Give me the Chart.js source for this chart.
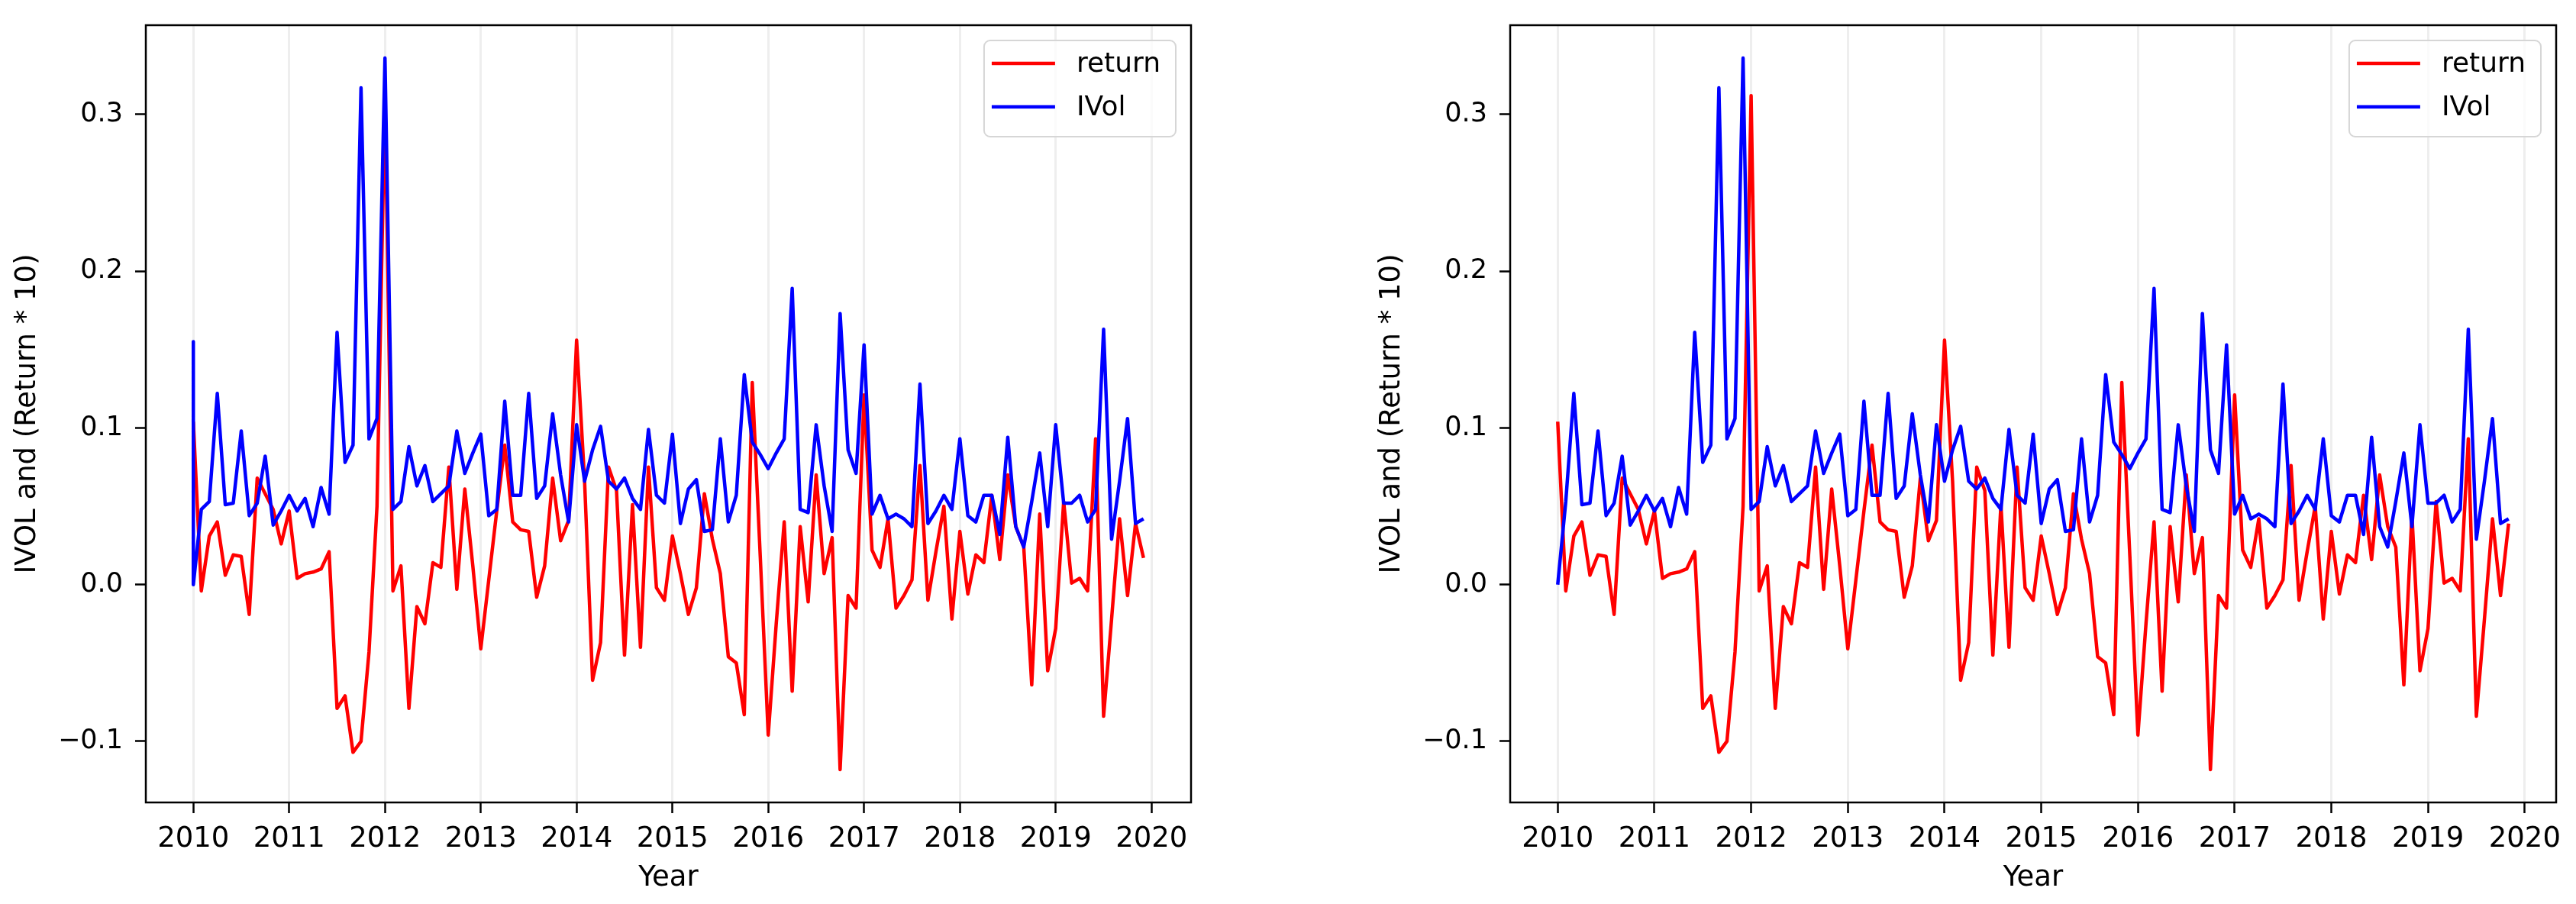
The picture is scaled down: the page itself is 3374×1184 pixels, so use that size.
<!DOCTYPE html>
<html>
<head>
<meta charset="utf-8">
<script src="https://cdn.jsdelivr.net/npm/chart.js@4.4.1/dist/chart.umd.min.js"></script>
<style>
  html, body { margin: 0; padding: 0; background: #ffffff; width: 3374px; height: 1184px; overflow: hidden; }
  canvas { position: absolute; top: 0; }
  #leftChart { left: 0px; }
  #rightChart { left: 1787px; }
</style>
</head>
<body>
<canvas id="leftChart" width="1700" height="1184"></canvas>
<canvas id="rightChart" width="1587" height="1184"></canvas>
<script>
// ---------------- DATA ----------------
// monthly observation dates (categories)
const months = [];
for (let y = 2010; y <= 2019; y++) {
  for (let m = 1; m <= 12; m++) months.push(y + '-' + String(m).padStart(2, '0'));
}
const xTickYears = [2010, 2011, 2012, 2013, 2014, 2015, 2016, 2017, 2018, 2019, 2020];
const yTickValues = [-0.1, 0.0, 0.1, 0.2, 0.3];
const seriesNames = ['return', 'IVol'];

// Left panel: return (x10), Jan 2010 .. Dec 2019
const returnLeft = [
  0.104, -0.004, 0.031, 0.040, 0.006, 0.019, 0.018, -0.019, 0.068, 0.058, 0.048, 0.026,
  0.047, 0.004, 0.007, 0.008, 0.010, 0.021, -0.079, -0.071, -0.107, -0.100, -0.043, 0.050,
  0.312, -0.004, 0.012, -0.079, -0.014, -0.025, 0.014, 0.011, 0.075, -0.003, 0.061, 0.012,
  -0.041, 0.003, 0.047, 0.089, 0.040, 0.035, 0.034, -0.008, 0.012, 0.068, 0.028, 0.041,
  0.156, 0.066, -0.061, -0.037, 0.075, 0.060, -0.045, 0.051, -0.040, 0.075, -0.002, -0.010,
  0.031, 0.007, -0.019, -0.002, 0.058, 0.029, 0.007, -0.046, -0.050, -0.083, 0.129, 0.018,
  -0.096, -0.025, 0.040, -0.068, 0.037, -0.011, 0.070, 0.007, 0.030, -0.118, -0.007, -0.015,
  0.121, 0.022, 0.011, 0.042, -0.015, -0.007, 0.003, 0.076, -0.010, 0.021, 0.050, -0.022,
  0.034, -0.006, 0.019, 0.014, 0.057, 0.016, 0.070, 0.037, 0.024, -0.064, 0.045, -0.055,
  -0.028, 0.053, 0.001, 0.004, -0.004, 0.093, -0.084, -0.022, 0.042, -0.007, 0.039, 0.017
];
// Left panel: IVol; the line opens with a vertical drop at Jan 2010 from this value
const ivolLeftOpening = 0.155;
const ivolLeft = [
  0.000, 0.048, 0.053, 0.122, 0.051, 0.052, 0.098, 0.044, 0.052, 0.082, 0.038, 0.047,
  0.057, 0.047, 0.055, 0.037, 0.062, 0.045, 0.161, 0.078, 0.089, 0.317, 0.093, 0.106,
  0.336, 0.048, 0.053, 0.088, 0.063, 0.076, 0.053, 0.058, 0.063, 0.098, 0.071, 0.084,
  0.096, 0.044, 0.048, 0.117, 0.057, 0.057, 0.122, 0.055, 0.063, 0.109, 0.070, 0.040,
  0.102, 0.066, 0.086, 0.101, 0.066, 0.061, 0.068, 0.055, 0.048, 0.099, 0.057, 0.052,
  0.096, 0.039, 0.061, 0.067, 0.034, 0.035, 0.093, 0.040, 0.057, 0.134, 0.091, 0.083,
  0.074, 0.084, 0.093, 0.189, 0.048, 0.046, 0.102, 0.063, 0.034, 0.173, 0.086, 0.071,
  0.153, 0.045, 0.057, 0.042, 0.045, 0.042, 0.037, 0.128, 0.039, 0.047, 0.057, 0.048,
  0.093, 0.044, 0.040, 0.057, 0.057, 0.032, 0.094, 0.037, 0.024, 0.053, 0.084, 0.037,
  0.102, 0.052, 0.052, 0.057, 0.040, 0.048, 0.163, 0.029, 0.066, 0.106, 0.039, 0.042
];

// Right panel: return (x10), Jan 2010 .. Nov 2019
const returnRight = [
  0.104, -0.004, 0.031, 0.040, 0.006, 0.019, 0.018, -0.019, 0.068, 0.058, 0.048, 0.026,
  0.047, 0.004, 0.007, 0.008, 0.010, 0.021, -0.079, -0.071, -0.107, -0.100, -0.043, 0.050,
  0.312, -0.004, 0.012, -0.079, -0.014, -0.025, 0.014, 0.011, 0.075, -0.003, 0.061, 0.012,
  -0.041, 0.003, 0.047, 0.089, 0.040, 0.035, 0.034, -0.008, 0.012, 0.068, 0.028, 0.041,
  0.156, 0.066, -0.061, -0.037, 0.075, 0.060, -0.045, 0.051, -0.040, 0.075, -0.002, -0.010,
  0.031, 0.007, -0.019, -0.002, 0.058, 0.029, 0.007, -0.046, -0.050, -0.083, 0.129, 0.018,
  -0.096, -0.025, 0.040, -0.068, 0.037, -0.011, 0.070, 0.007, 0.030, -0.118, -0.007, -0.015,
  0.121, 0.022, 0.011, 0.042, -0.015, -0.007, 0.003, 0.076, -0.010, 0.021, 0.050, -0.022,
  0.034, -0.006, 0.019, 0.014, 0.057, 0.016, 0.070, 0.037, 0.024, -0.064, 0.045, -0.055,
  -0.028, 0.053, 0.001, 0.004, -0.004, 0.093, -0.084, -0.022, 0.042, -0.007, 0.039
];
// Right panel: IVol, Jan 2010 .. Nov 2019
const ivolRight = [
  0.000, 0.053, 0.122, 0.051, 0.052, 0.098, 0.044, 0.052, 0.082, 0.038, 0.047, 0.057,
  0.047, 0.055, 0.037, 0.062, 0.045, 0.161, 0.078, 0.089, 0.317, 0.093, 0.106, 0.336,
  0.048, 0.053, 0.088, 0.063, 0.076, 0.053, 0.058, 0.063, 0.098, 0.071, 0.084, 0.096,
  0.044, 0.048, 0.117, 0.057, 0.057, 0.122, 0.055, 0.063, 0.109, 0.070, 0.040, 0.102,
  0.066, 0.086, 0.101, 0.066, 0.061, 0.068, 0.055, 0.048, 0.099, 0.057, 0.052, 0.096,
  0.039, 0.061, 0.067, 0.034, 0.035, 0.093, 0.040, 0.057, 0.134, 0.091, 0.083, 0.074,
  0.084, 0.093, 0.189, 0.048, 0.046, 0.102, 0.063, 0.034, 0.173, 0.086, 0.071, 0.153,
  0.045, 0.057, 0.042, 0.045, 0.042, 0.037, 0.128, 0.039, 0.047, 0.057, 0.048, 0.093,
  0.044, 0.040, 0.057, 0.057, 0.032, 0.094, 0.037, 0.024, 0.053, 0.084, 0.037, 0.102,
  0.052, 0.052, 0.057, 0.040, 0.048, 0.163, 0.029, 0.066, 0.106, 0.039, 0.042
];

// ---------------- HELPERS ----------------
const FONT = '"DejaVu Sans", "Liberation Sans", sans-serif';
Chart.defaults.font.family = FONT;
Chart.defaults.color = '#000000';

function monthToYear(label) {
  const [y, m] = label.split('-').map(Number);
  return y + (m - 1) / 12;
}
function toPoints(values, opening) {
  const pts = values.map((v, i) => ({ x: monthToYear(months[i]), y: v }));
  if (opening !== undefined) pts.unshift({ x: monthToYear(months[0]), y: opening });
  return pts;
}

// matplotlib-like frame (all four spines)
const framePlugin = {
  id: 'frame',
  afterDatasetsDraw(chart) {
    const { ctx, chartArea: a } = chart;
    ctx.save();
    ctx.strokeStyle = '#000000';
    ctx.lineWidth = 2.5;
    ctx.strokeRect(a.left, a.top, a.right - a.left, a.bottom - a.top);
    ctx.restore();
  }
};

// matplotlib-like legend box in the upper right of the axes
const legendPlugin = {
  id: 'boxLegend',
  afterDraw(chart) {
    const { ctx, chartArea: a } = chart;
    const sets = chart.data.datasets;
    ctx.save();
    ctx.font = '36px ' + FONT;
    const textW = Math.max(...sets.map(d => ctx.measureText(d.label).width));
    const padL = 10, lineLen = 83, gap = 28, padR = 20, rowH = 57, boxH = 126;
    const w = padL + lineLen + gap + textW + padR;
    const x0 = a.right - 20 - w;
    const y0 = a.top + 20;
    ctx.beginPath();
    if (ctx.roundRect) ctx.roundRect(x0, y0, w, boxH, 8); else ctx.rect(x0, y0, w, boxH);
    ctx.fillStyle = 'rgba(255,255,255,0.8)';
    ctx.fill();
    ctx.strokeStyle = '#d6d6d6';
    ctx.lineWidth = 2;
    ctx.stroke();
    sets.forEach((d, i) => {
      const cy = y0 + 30 + i * rowH;
      ctx.strokeStyle = d.borderColor;
      ctx.lineWidth = 4.5;
      ctx.beginPath();
      ctx.moveTo(x0 + padL, cy);
      ctx.lineTo(x0 + padL + lineLen, cy);
      ctx.stroke();
      ctx.fillStyle = '#000000';
      ctx.textBaseline = 'middle';
      ctx.textAlign = 'left';
      ctx.fillText(d.label, x0 + padL + lineLen + gap, cy + 2);
    });
    ctx.restore();
  }
};

function makeChart(canvasId, retVals, ivolVals, ivolOpening, padRight) {
  const first = monthToYear(months[0]);
  const last = monthToYear(months[retVals.length - 1]);
  const margin = (last - first) * 0.05;
  return new Chart(document.getElementById(canvasId), {
    type: 'line',
    data: {
      datasets: [
        {
          label: seriesNames[0],
          data: toPoints(retVals),
          borderColor: '#ff0000',
          borderWidth: 4.5,
          pointRadius: 0,
          tension: 0,
          fill: false,
          borderJoinStyle: 'round',
          order: 2
        },
        {
          label: seriesNames[1],
          data: toPoints(ivolVals, ivolOpening),
          borderColor: '#0000ff',
          borderWidth: 4.5,
          pointRadius: 0,
          tension: 0,
          fill: false,
          borderJoinStyle: 'round',
          order: 1
        }
      ]
    },
    options: {
      responsive: false,
      animation: false,
      devicePixelRatio: 1,
      layout: { autoPadding: false, padding: { left: 0, top: 33, right: padRight, bottom: 0 } },
      plugins: { legend: { display: false }, tooltip: { enabled: false } },
      scales: {
        x: {
          type: 'linear',
          min: first - margin,
          max: last + margin,
          afterBuildTicks: (s) => { s.ticks = xTickYears.map(v => ({ value: v })); },
          afterFit: (s) => { s.height = 133; s.paddingLeft = 0; s.paddingRight = 0; },
          ticks: {
            autoSkip: false,
            maxRotation: 0,
            padding: 12,
            font: { size: 37 },
            color: '#000000',
            callback: (v) => String(v)
          },
          grid: {
            display: true,
            color: 'rgba(176,176,176,0.22)',
            lineWidth: 3,
            drawTicks: true,
            tickLength: 14,
            tickColor: '#000000',
            tickWidth: 2.5
          },
          border: { display: false },
          title: {
            display: true,
            text: 'Year',
            font: { size: 37 },
            color: '#000000',
            padding: { top: 0, bottom: 11 }
          }
        },
        y: {
          type: 'linear',
          min: -0.139,
          max: 0.357,
          afterBuildTicks: (s) => { s.ticks = yTickValues.map(v => ({ value: v })); },
          afterFit: (s) => { s.width = 191; s.paddingTop = 0; s.paddingBottom = 0; },
          ticks: {
            padding: 16,
            font: { size: 35 },
            color: '#000000',
            callback: (v) => (v < 0 ? '\u2212' + Math.abs(v).toFixed(1) : v.toFixed(1))
          },
          grid: {
            display: true,
            drawOnChartArea: false,
            drawTicks: true,
            tickLength: 14,
            tickColor: '#000000',
            tickWidth: 2.5
          },
          border: { display: false },
          title: {
            display: true,
            text: 'IVOL and (Return * 10)',
            font: { size: 37 },
            color: '#000000',
            padding: { top: 14, bottom: 0 }
          }
        }
      }
    },
    plugins: [framePlugin, legendPlugin]
  });
}

makeChart('leftChart', returnLeft, ivolLeft, ivolLeftOpening, 140);
makeChart('rightChart', returnRight, ivolRight, undefined, 26);
</script>
</body>
</html>
